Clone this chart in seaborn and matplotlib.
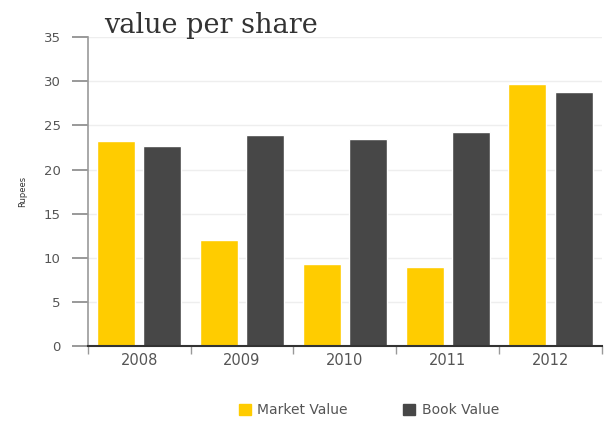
import matplotlib
matplotlib.use("Agg")
import matplotlib.pyplot as plt
import seaborn as sns
import pandas as pd
import numpy as np

years = ["2008", "2009", "2010", "2011", "2012"]
market_value = [23.2, 12.0, 9.3, 8.9, 29.7]
book_value = [22.7, 23.9, 23.5, 24.3, 28.8]
series_names = ["Market Value", "Book Value"]
y_ticks = [0, 5, 10, 15, 20, 25, 30, 35]

df = pd.DataFrame({
    "year": years * 2,
    "value": market_value + book_value,
    "series": [series_names[0]] * len(years) + [series_names[1]] * len(years),
})

sns.set_theme(style="white")
plt.rcParams["font.family"] = ["DejaVu Sans"]

fig = plt.figure(figsize=(6.05, 4.22), dpi=100)
ax = fig.add_axes([0.145, 0.18, 0.85, 0.732])

palette = {"Market Value": "#FFCC00", "Book Value": "#474747"}
sns.barplot(data=df, x="year", y="value", hue="series", order=years,
            hue_order=series_names, palette=palette, width=0.9, gap=0.18,
            saturation=1, ax=ax, legend=False)

ax.set_ylim(0, 35)
ax.set_xlim(-0.5, 4.5)
ax.set_yticks(y_ticks)
ax.set_yticklabels([str(t) for t in y_ticks], fontsize=9.5, color="#555555")
ax.yaxis.grid(True, color="#eeeeee", linewidth=1)
ax.set_axisbelow(True)

# category boundaries as small ticks under the baseline
ax.set_xticks(range(len(years)))
ax.set_xticklabels(years, fontsize=10.5, color="#555555")
ax.set_xticks(np.arange(-0.5, len(years), 1.0), minor=True)
ax.tick_params(axis="x", which="major", length=0, pad=5)
ax.tick_params(axis="x", which="minor", length=6, width=1, color="#999999",
               direction="out", bottom=True)
ax.tick_params(axis="y", length=11.5, width=1.2, color="#888888",
               direction="out", left=True, pad=8)

for side in ["top", "right"]:
    ax.spines[side].set_visible(False)
ax.spines["left"].set_color("#999999")
ax.spines["left"].set_linewidth(1.2)
ax.spines["bottom"].set_color("#333333")
ax.spines["bottom"].set_linewidth(1.5)

ax.set_xlabel("")
ax.set_ylabel("Rupees", fontsize=6, color="#333333", labelpad=12)

fig.text(0.172, 1 - 33 / 422, "value per share", fontsize=19.5,
         color="#333333", family="DejaVu Serif", ha="left", va="baseline")

# legend under the chart
handles = [plt.Rectangle((0, 0), 1, 1, color=palette[s]) for s in series_names]
fig.legend(handles, series_names, loc="center", ncol=2, frameon=False,
           bbox_to_anchor=(0.61, 0.028), fontsize=10, handlelength=0.85,
           handleheight=0.85, handletextpad=0.45, columnspacing=4,
           labelcolor="#555555")

fig.savefig("out.png", dpi=100, facecolor="white")
